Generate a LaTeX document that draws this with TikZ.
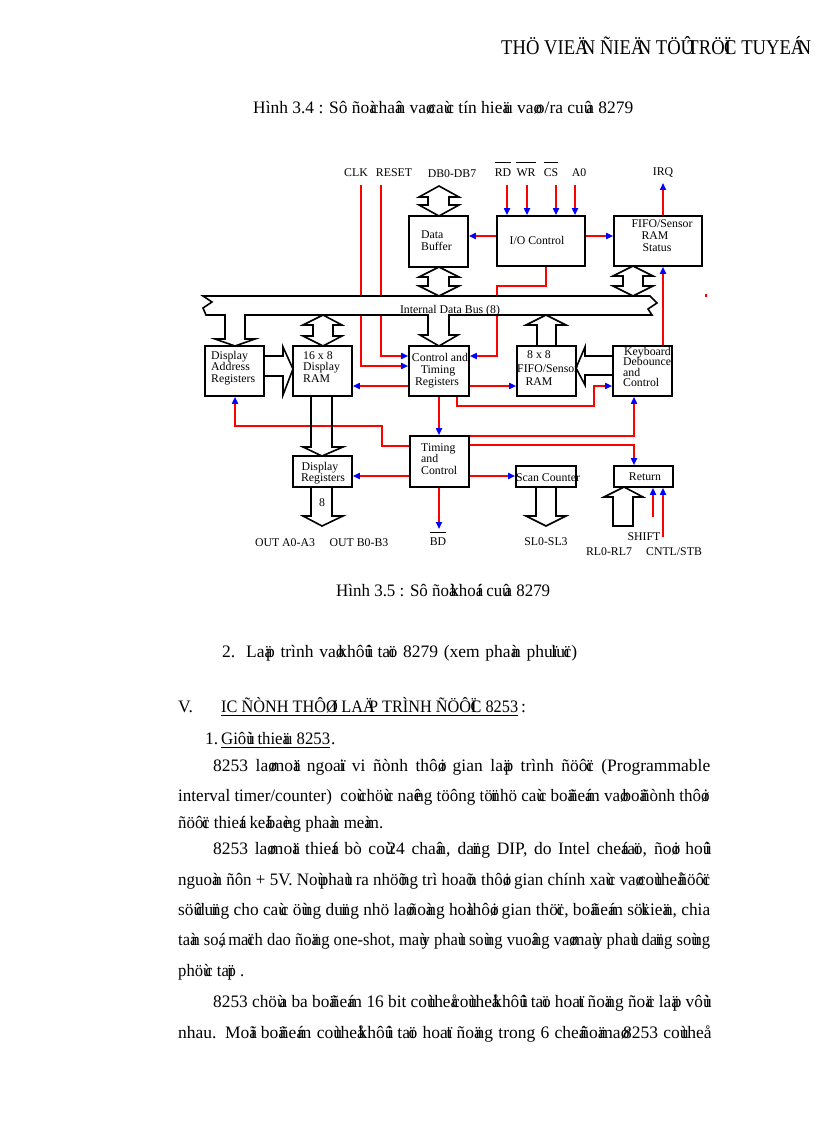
\documentclass[tikz,border=0pt]{standalone}
\usepackage{fontspec}
\setmainfont{Liberation Serif}
\usetikzlibrary{arrows.meta,fit}
% VNI tone-mark characters: drawn, but with almost no advance (as in the reference)
\XeTeXinterchartokenstate=1
\newXeTeXintercharclass\vnimark
\def\setmark#1{\XeTeXcharclass`#1=\vnimark}
\setmark ù\setmark ø\setmark û\setmark õ\setmark ï\setmark â\setmark á\setmark à
\setmark å\setmark ã\setmark ä\setmark ê\setmark é\setmark è\setmark ú\setmark ü\setmark ë
\setmark Ù\setmark Ø\setmark Û\setmark Õ\setmark Ï\setmark Â\setmark Á\setmark À
\setmark Å\setmark Ã\setmark Ä\setmark Ê\setmark É\setmark È\setmark Ú\setmark Ü\setmark Ë
\XeTeXinterchartoks\vnimark 0={\kern-0.36em}
\XeTeXinterchartoks\vnimark 1={\kern-0.36em}
\XeTeXinterchartoks\vnimark 2={\kern-0.36em}
\XeTeXinterchartoks\vnimark 3={\kern-0.36em}
\XeTeXinterchartoks\vnimark\vnimark={\kern-0.36em}
\XeTeXinterchartoks\vnimark 4095={\kern-0.36em}
\newsavebox\fitbox
\newcommand\fitto[2]{\sbox\fitbox{#2}\ifdim\wd\fitbox<#1pt\relax\makebox[#1pt][s]{#2}\else\pgfmathsetmacro\fitratio{#1/\the\wd\fitbox}\scalebox{\fitratio}[1]{\usebox\fitbox}\fi}
\begin{document}
\begin{tikzpicture}[x=1pt,y=-1pt,
  box/.style={draw=black,line width=1.6pt,inner sep=0pt},
  sig/.style={draw=red,line width=1.6pt,-{Triangle[color=blue,length=7pt,width=6pt]}},
  fat/.style={draw=black,line width=1.6pt,line join=miter},
  lab/.style={inner sep=0pt,font=\fontsize{11.8}{12}\selectfont,text height=7.8pt,text depth=0pt},
  bod/.style={inner sep=0pt,anchor=west,font=\fontsize{17.5}{20}\selectfont,text height=11.6pt,text depth=0pt},
  hdr/.style={inner sep=0pt,anchor=west,font=\fontsize{21}{24}\selectfont,text height=13.9pt,text depth=0pt},
  ol/.style={draw=black,line width=0.9pt},
  ul/.style={draw=black,line width=1.1pt}]
\useasboundingbox (0,0) rectangle (816,1123);
\fill[white] (0,0) rectangle (816,1123);

% ---------- boxes ----------
\node[box,fit={(409,216) (468,267)}] (db) {};
\node[box,fit={(497,216) (585,266)}] (io) {};
\node[box,fit={(614,216) (702,266)}] (fs) {};
\node[box,fit={(205,346) (264,396)}] (dar) {};
\node[box,fit={(293,346) (352,396)}] (dram) {};
\node[box,fit={(409,346) (469,396)}] (ctr) {};
\node[box,fit={(517,346) (576,396)}] (fifo) {};
\node[box,fit={(613,346) (672,396)}] (kb) {};
\node[box,fit={(410,436) (469,487)}] (tc) {};
\node[box,fit={(293,456) (352,487)}] (dreg) {};
\node[box,fit={(516,466) (576,487)}] (sc) {};
\node[box,fit={(614,466) (673,487)}] (ret) {};

% ---------- signal lines ----------
\coordinate (clk0) at (361,185);
\coordinate (rst0) at (381,185);
\coordinate (rd0) at (507,185);
\coordinate (wr0) at (527,185);
\coordinate (cs0) at (556,185);
\coordinate (a00) at (575,185);
\coordinate (irq0) at (663,183);
\coordinate (bd0) at (439,529);
\coordinate (sh0) at (653,517);
\coordinate (cn0) at (663,537);

\draw[sig] (clk0) |- (ctr.west |- 0,366);
\draw[sig] (rst0) |- (ctr.west |- 0,356);
\draw[sig] (rd0) -- (rd0 |- io.north);
\draw[sig] (wr0) -- (wr0 |- io.north);
\draw[sig] (cs0) -- (cs0 |- io.north);
\draw[sig] (a00) -- (a00 |- io.north);
\draw[sig] (io.west |- 0,236) -- (db.east |- 0,236);
\draw[sig] (io.east |- 0,236) -- (fs.west |- 0,236);
\draw[sig] (irq0 |- fs.north) -- (irq0);
\draw[sig] (io.south -| 546,0) -- (546,286) -- (497,286) -- (497,356) -- (ctr.east |- 0,356);
\draw[sig] (kb.north -| 663,0) -- (fs.south -| 663,0);
\draw[sig] (ctr.west |- 0,386) -- (dram.east |- 0,386);
\draw[sig] (ctr.east |- 0,386) -- (fifo.west |- 0,386);
\draw[sig] (ctr.south -| 457,0) -- (457,406) -- (594,406) -- (594,386) -- (kb.west |- 0,386);
\draw[sig] (ctr.south -| 439,0) -- (tc.north -| 439,0);
\draw[sig] (tc.west |- 0,446) -- (382,446) -- (382,426) -- (235,426) -- (dar.south -| 235,0);
\draw[sig] (tc.west |- 0,476) -- (dreg.east |- 0,476);
\draw[sig] (tc.south -| 439,0) -- (bd0);
\draw[sig] (tc.east |- 0,476) -- (sc.west |- 0,476);
\draw[sig] (tc.east |- 0,436) -- (634,436) -- (kb.south -| 634,0);
\draw[sig] (tc.east |- 0,445) -- (634,445) -- (ret.north -| 634,0);
\draw[sig] (sh0) -- (sh0 |- ret.south);
\draw[sig] (cn0) -- (cn0 |- ret.south);
\draw[red,line width=1.2pt] (706,293.5) -- (706,297);

% ---------- internal data bus ----------
\draw[fat,fill=white] (203,296) -- (650,296) -- (657,303) -- (648,309) -- (652,315)
  -- (206,315) -- (203,308) -- (212,302) -- cycle;
\fill[white] (226,312) rectangle (244,318);
\fill[white] (429,312) rectangle (448,318);

% ---------- fat arrows ----------
\draw[fat] (439,186) -- (459,197) -- (449,197) -- (449,205) -- (459,205) -- (439,216)
  -- (419,205) -- (428,205) -- (428,197) -- (419,197) -- cycle;
\draw[fat] (439,267) -- (459,277) -- (449,277) -- (449,286) -- (459,286) -- (439,296)
  -- (419,286) -- (428,286) -- (428,277) -- (419,277) -- cycle;
\draw[fat] (633,266) -- (653,276) -- (643,276) -- (643,286) -- (653,286) -- (633,296)
  -- (613,286) -- (623,286) -- (623,276) -- (613,276) -- cycle;
\draw[fat] (323,315) -- (342,325) -- (333,325) -- (333,336) -- (342,336) -- (323,346)
  -- (303,336) -- (313,336) -- (313,325) -- (303,325) -- cycle;
\draw[fat] (225,315) -- (225,339) -- (215,339) -- (235,346) -- (255,339) -- (245,339) -- (245,315);
\draw[fat] (428,315) -- (428,335) -- (420,335) -- (439,346) -- (458,335) -- (449,335) -- (449,315);
\draw[fat] (537,346) -- (537,325) -- (526,325) -- (546,315) -- (566,325) -- (556,325) -- (556,346);
\draw[fat] (264,356) -- (283,356) -- (283,347) -- (293,369) -- (283,395) -- (283,376) -- (264,376);
\draw[fat] (613,356) -- (585,356) -- (585,347) -- (576,368) -- (585,385) -- (585,375) -- (613,375);
\draw[fat] (311,396) -- (311,447) -- (303,447) -- (322,456) -- (343,447) -- (332,447) -- (332,396);
\draw[fat] (311,487) -- (311,516) -- (303,516) -- (322,526) -- (343,516) -- (332,516) -- (332,487);
\draw[fat] (536,487) -- (536,516) -- (526,516) -- (546,526) -- (566,516) -- (556,516) -- (556,487);
\draw[fat] (613,526) -- (613,497) -- (604,497) -- (624,487) -- (643,497) -- (633,497) -- (633,526) -- cycle;

% ---------- diagram labels ----------
\node[lab] (lclk) at (356,173) {CLK};
\node[lab] (lrst) at (394,173) {RESET};
\node[lab] (ldb) at (452,174) {DB0-DB7};
\node[lab] (lrd) at (503,173) {RD};
\node[lab] (lwr) at (526,173) {WR};
\node[lab] (lcs) at (551,173) {CS};
\node[lab] (la0) at (579,173) {A0};
\node[lab] (lirq) at (663,172) {IRQ};
\draw[ol] ([yshift=6pt]lrd.north west) -- ([yshift=6pt]lrd.north east);
\draw[ol] ([yshift=6pt]lwr.north west) -- ([yshift=6pt]lwr.north east);
\draw[ol] ([yshift=6pt]lcs.north west) -- ([yshift=6pt]lcs.north east);

\node[lab,anchor=west] (tdb1) at (421,235) {Data};
\node[lab,anchor=west] (tdb2) at (421,247) {Buffer};
\node[lab] (tio) at (537,241) {I/O Control};
\node[lab] (tfs1) at (662,224) {FIFO/Sensor};
\node[lab] (tfs2) at (655,236) {RAM};
\node[lab] (tfs3) at (657,248) {Status};
\node[lab] (tbus) at (450,310) {Internal Data Bus (8)};
\node[lab,anchor=west] (tdar1) at (211,356) {Display};
\node[lab,anchor=west] (tdar2) at (211,367) {Address};
\node[lab,anchor=west] (tdar3) at (211,379) {Registers};
\node[lab,anchor=west] (tdr1) at (303,356) {16 x 8};
\node[lab,anchor=west] (tdr2) at (303,367) {Display};
\node[lab,anchor=west] (tdr3) at (303,379) {RAM};
\node[lab] (tct1) at (440,358) {Control and};
\node[lab] (tct2) at (438,370) {Timing};
\node[lab] (tct3) at (437,382) {Registers};
\node[lab,anchor=west] (tff1) at (527,355) {8 x 8};
\node[lab,anchor=west] (tff2) at (517,369) {FIFO/Sensor};
\node[lab] (tff3) at (539,382) {RAM};
\node[lab,anchor=west] (tkb1) at (624,352) {Keyboard};
\node[lab,anchor=west] (tkb2) at (623,362) {Debounce};
\node[lab,anchor=west] (tkb3) at (623,373) {and};
\node[lab,anchor=west] (tkb4) at (623,383) {Control};
\node[lab,anchor=west] (ttc1) at (421,448) {Timing};
\node[lab,anchor=west] (ttc2) at (421,459) {and};
\node[lab,anchor=west] (ttc3) at (421,471) {Control};
\node[lab] (tdg1) at (320,467) {Display};
\node[lab] (tdg2) at (323,478) {Registers};
\node[lab] (tsc) at (548,478) {Scan Counter};
\node[lab] (tret) at (645,477) {Return};
\node[lab] (t8) at (322,503) {8};
\node[lab] (loa) at (285,543) {OUT A0-A3};
\node[lab] (lob) at (359,543) {OUT B0-B3};
\node[lab] (lbd) at (438,542) {BD};
\draw[ol] ([yshift=5pt]lbd.north west) -- ([yshift=5pt]lbd.north east);
\node[lab] (lsl) at (546,542) {SL0-SL3};
\node[lab] (lsh) at (644,537) {SHIFT};
\node[lab] (lrl) at (609,552) {RL0-RL7};
\node[lab] (lcn) at (674,552) {CNTL/STB};

% ---------- page text ----------
\node[hdr] (head) at (501,48) {\fitto{310}{THÖ VIEÄN ÑIEÄN TÖÛ TRÖÏC TUYEÁN}};
\node[bod] (cap1) at (253,108) {\fitto{380}{Hình 3.4 : Sô ñoà chaân vaø caùc tín hieäu vaøo/ra cuûa 8279}};
\node[bod] (cap2) at (336,591) {\fitto{214}{Hình 3.5 : Sô ñoà khoái cuûa 8279}};
\node[bod] (n2) at (222,652) {2.};
\node[bod] (s2) at (246,652) {\fitto{331}{Laäp trình vaø khôûi taïo 8279 (xem phaàn phuï luïc)}};
\node[bod] (nV) at (178,707) {V.};
\node[bod] (sV) at (221,707) {\fitto{297}{IC ÑÒNH THÔØI LAÄP TRÌNH ÑÖÔÏC 8253}};
\node[bod] (sVc) at (521,707) {:};
\draw[ul] (221,715.5) -- (518,715.5);
\node[bod] (n1) at (205,739) {1.};
\node[bod] (s1) at (221,739) {\fitto{109}{Giôùi thieäu 8253}};
\node[bod] (s1p) at (331,739) {.};
\draw[ul] (221,747.5) -- (330,747.5);

\node[bod] (l1) at (213,766) {\fitto{497}{8253 laø moät ngoaïi vi ñònh thôøi gian laäp trình ñöôïc (Programmable}};
\node[bod] (l2) at (178,796) {\fitto{530}{interval timer/counter)\ \ coù chöùc naêng töông töï nhö caùc boä ñeám vaø boä ñònh thôøi}};
\node[bod] (l3) at (178,823) {\fitto{205}{ñöôïc thieát keá baèng phaàn meàm.}};
\node[bod] (l4) at (213,849) {\fitto{497}{8253 laø moät thieát bò coù 24 chaân, daïng DIP, do Intel cheá taïo, ñoøi hoûi}};
\node[bod] (l5) at (178,880) {\fitto{532}{nguoàn ñôn + 5V. Noù phaùt ra nhöõng trì hoaõn thôøi gian chính xaùc vaø coù theå ñöôïc}};
\node[bod] (l6) at (178,910) {\fitto{532}{söû duïng cho caùc öùng duïng nhö laø ñoàng hoà thôøi gian thöïc, boä ñeám söï kieän, chia}};
\node[bod] (l7) at (178,940) {\fitto{532}{taàn soá, maïch dao ñoäng one-shot, maùy phaùt soùng vuoâng vaø maùy phaùt daïng soùng}};
\node[bod] (l8) at (178,971) {\fitto{66}{phöùc taïp .}};
\node[bod] (l9) at (213,1002) {\fitto{497}{8253 chöùa ba boä ñeám 16 bit coù theå coù theå khôûi taïo hoaït ñoäng ñoäc laäp vôùi}};
\node[bod] (l10) at (178,1033) {\fitto{527}{nhau. Moãi boä ñeám coù theå khôûi taïo hoaït ñoäng trong 6 cheá ñoä maø 8253 coù theå}};
\end{tikzpicture}
\end{document}
